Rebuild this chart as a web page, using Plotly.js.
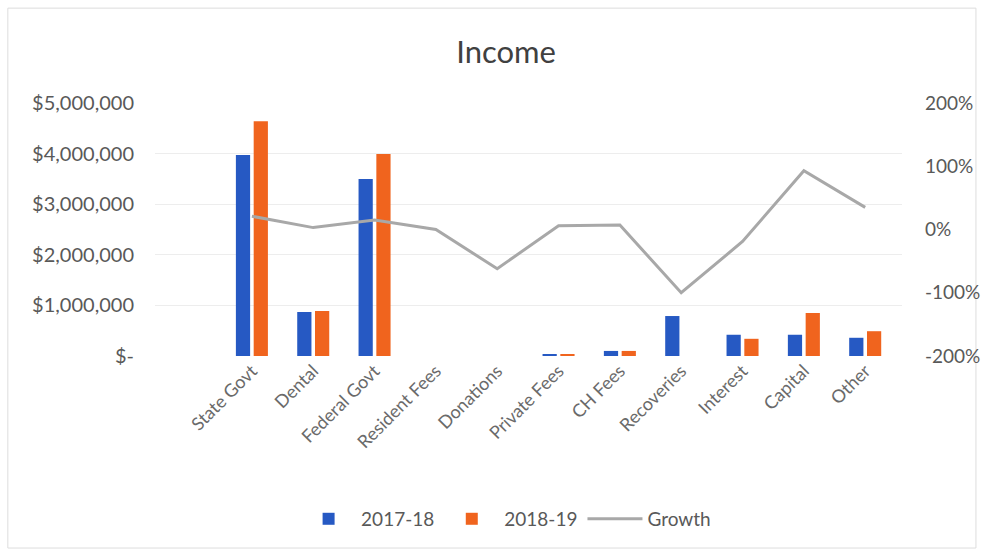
<!DOCTYPE html>
<html>
<head>
<meta charset="utf-8">
<script src="https://cdn.plot.ly/plotly-3.0.1.min.js"></script>
<style>html,body{margin:0;padding:0;background:#fff;}#chart{width:984px;height:555px;}</style>
</head>
<body>
<div id="chart"></div>
<script>
const categories = ["State Govt","Dental","Federal Govt","Resident Fees","Donations","Private Fees","CH Fees","Recoveries","Interest","Capital","Other"];
const income2017 = [3970000, 870000, 3500000, 0, 0, 40000, 100000, 790000, 420000, 420000, 360000];
const income2018 = [4640000, 890000, 3990000, 0, 0, 40000, 100000, 0, 340000, 850000, 490000];
const growth = [0.21, 0.03, 0.15, 0.0, -0.62, 0.06, 0.07, -1.0, -0.19, 0.93, 0.35];
const leftTickVals = [0, 1000000, 2000000, 3000000, 4000000, 5000000];
const leftTickText = ["$-", "$1,000,000", "$2,000,000", "$3,000,000", "$4,000,000", "$5,000,000"];
const rightTickVals = [-2, -1, 0, 1, 2];
const rightTickText = ["-200%", "-100%", "0%", "100%", "200%"];

const FONT = "Lato, 'Open Sans', sans-serif";
const traces = [
  {type:"bar", name:"2017-18", x:categories, y:income2017, marker:{color:"#2659C3"}},
  {type:"bar", name:"2018-19", x:categories, y:income2018, marker:{color:"#F0641E"}},
  {type:"scatter", mode:"lines", name:"Growth", x:categories, y:growth, yaxis:"y2",
   line:{color:"#A8A8A8", width:3}}
];
const layout = {
  width:984, height:555,
  margin:{l:155, r:82, t:103, b:199},
  paper_bgcolor:"#fff", plot_bgcolor:"#fff",
  font:{family:FONT, size:19, color:"#595959"},
  title:{text:"Income", x:0.47, xref:"paper", y:0.906, yanchor:"middle",
         font:{family:FONT, size:31, color:"#404040"}},
  barmode:"group", bargap:0.42, bargroupgap:0.2,
  showlegend:true,
  legend:{orientation:"h", x:0.47, xanchor:"center", y:-0.644, yanchor:"middle",
          font:{family:FONT, size:19, color:"#595959"}, itemwidth:55, traceorder:"normal"},
  xaxis:{type:"category", range:[-1.58, 10.6], tickangle:-45, showgrid:false,
         zeroline:false, showline:false, ticks:"", tickfont:{family:FONT, size:18, color:"#6a6a6a"}},
  yaxis:{range:[0,5000000], tickvals:leftTickVals, ticktext:leftTickText,
         showgrid:true, gridcolor:"#EDEDED", gridwidth:1, zeroline:false, showline:false,
         ticks:"", ticklabelstandoff:20, tickfont:{family:FONT, size:20, color:"#595959"}},
  yaxis2:{overlaying:"y", side:"right", range:[-2,2], tickvals:rightTickVals, ticktext:rightTickText,
          showgrid:false, zeroline:false, showline:false, ticks:"", ticklabelstandoff:22,
          tickfont:{family:FONT, size:19, color:"#595959"}},
  shapes:[{type:"rect", xref:"paper", yref:"paper", x0:-0.197, x1:1.099, y0:-0.759, y1:1.375,
           line:{color:"#DDDDDD", width:1}, fillcolor:"rgba(0,0,0,0)", layer:"below"}]
};
Plotly.newPlot("chart", traces, layout, {displayModeBar:false, staticPlot:true});
</script>
</body>
</html>
